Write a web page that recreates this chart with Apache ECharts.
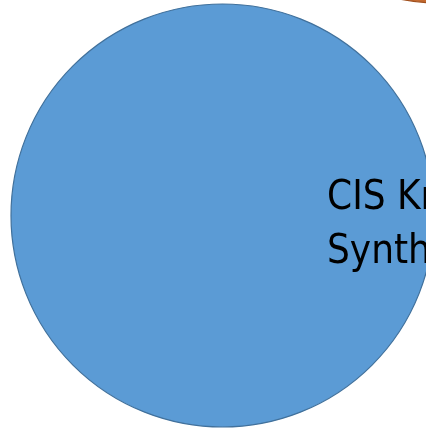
<!DOCTYPE html>
<html>
<head>
<meta charset="utf-8">
<script src="https://cdn.jsdelivr.net/npm/echarts@6/dist/echarts.min.js"></script>
<style>html,body{margin:0;padding:0;background:#fff;}#c{width:426px;height:430px;}</style>
</head>
<body>
<div id="c"></div>
<script>
// Circles: centre x, centre y (pixels from top-left), radius
var circleNames = ['CIS', 'Other'];
var centerX = [222.5, 440];
var centerY = [215.5, -205];
var radii = [211.5, 208];
var labelLines = ['CIS Kr', 'Synth'];

var chart = echarts.init(document.getElementById('c'), null, {renderer: 'canvas'});
var colors = ['#5B9BD5', '#C46A30'];
var borders = ['#41719C', '#A0501E'];
var data = circleNames.map(function (n, i) {
  return {
    name: n,
    value: [centerX[i], centerY[i], radii[i]],
    itemStyle: {color: colors[i], borderColor: borders[i], borderWidth: 1.2, opacity: 1}
  };
});
chart.setOption({
  animation: false,
  grid: {left: 0, right: 0, top: 0, bottom: 0},
  xAxis: {type: 'value', min: 0, max: 426, show: false},
  yAxis: {type: 'value', min: 0, max: 430, inverse: true, show: false},
  series: [{
    type: 'scatter',
    symbol: 'circle',
    clip: false,
    symbolSize: function (v) { return v[2] * 2; },
    data: data,
    silent: true
  }],
  graphic: [{
    type: 'text',
    left: 327,
    top: 172,
    z: 100,
    silent: true,
    style: {
      text: labelLines.join('\n'),
      font: '40px "Liberation Sans Narrow", "DejaVu Sans Condensed", "Liberation Sans", sans-serif',
      fill: '#000',
      lineHeight: 54
    }
  }]
});
</script>
</body>
</html>
